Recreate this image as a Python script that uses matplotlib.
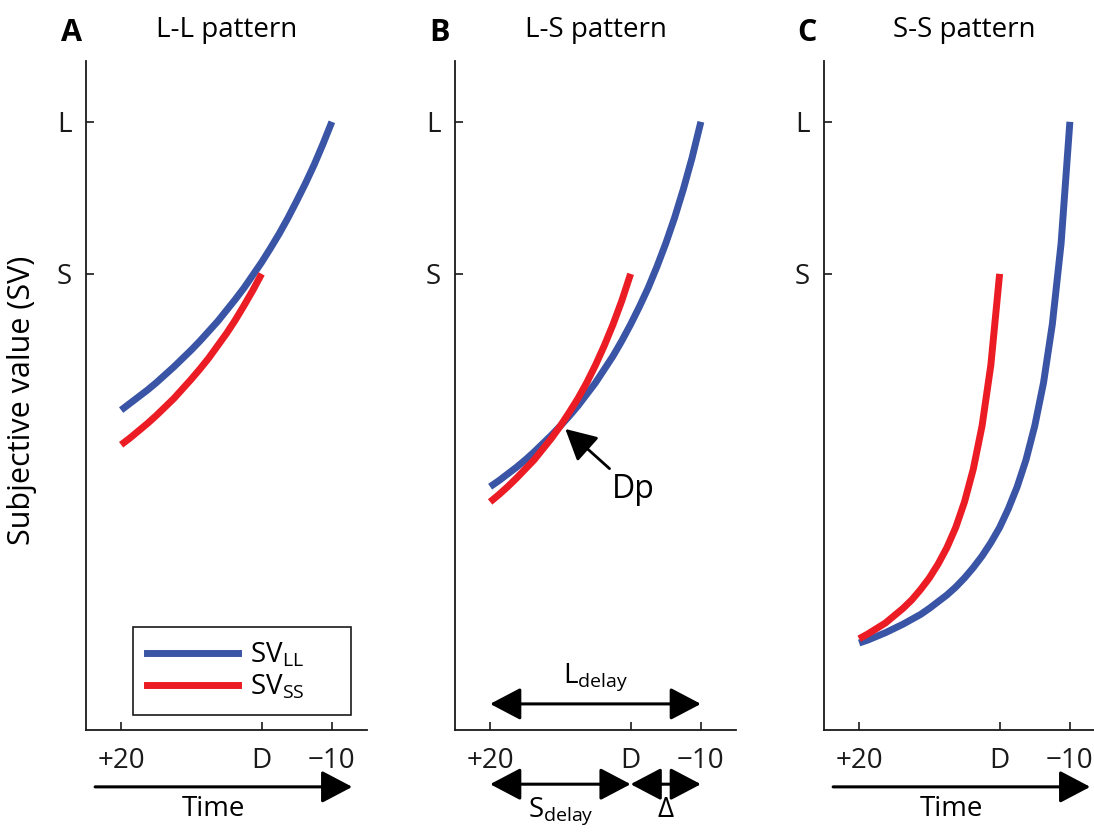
"""Subjective value vs time for three delay-discounting patterns (L-L, L-S, S-S)."""

import matplotlib

matplotlib.use("Agg")
import matplotlib.pyplot as plt
from matplotlib.lines import Line2D

FONT = "Open Sans"
plt.rcParams["font.family"] = [FONT, "DejaVu Sans"]
plt.rcParams["mathtext.fontset"] = "custom"
plt.rcParams["mathtext.rm"] = FONT
plt.rcParams["mathtext.it"] = FONT

BLUE = "#3A55A5"
RED = "#EC1C24"
INK = "#1a1a1a"

# time runs from +20 (far from delivery) to -10 (delivery of L); D = 0
time_ll = [20, 18.75, 17.5, 16.25, 15, 13.75, 12.5, 11.25, 10, 8.75, 7.5, 6.25, 5,
           3.75, 2.5, 1.25, 0, -1.25, -2.5, -3.75, -5, -6.25, -7.5, -8.75, -10]
time_ss = [20, 18.75, 17.5, 16.25, 15, 13.75, 12.5, 11.25, 10, 8.75, 7.5, 6.25, 5,
           3.75, 2.5, 1.25, 0]

# values (S = 0.75, L = 1)
sv_ll_a = [0.526, 0.537, 0.548, 0.559, 0.571, 0.584, 0.597, 0.611, 0.625, 0.64, 0.656, 0.672, 0.69,
           0.708, 0.727, 0.748, 0.769, 0.792, 0.816, 0.842, 0.87, 0.899, 0.93, 0.964, 1.0]
sv_ss_a = [0.469, 0.48, 0.492, 0.504, 0.517, 0.531, 0.545, 0.561, 0.577, 0.594, 0.612, 0.632, 0.652,
           0.674, 0.698, 0.723, 0.75]
sv_ll_b = [0.40, 0.41, 0.421, 0.432, 0.444, 0.457, 0.471, 0.485, 0.50, 0.516, 0.533, 0.552, 0.571,
           0.593, 0.615, 0.64, 0.667, 0.696, 0.727, 0.762, 0.80, 0.842, 0.889, 0.941, 1.0]
sv_ss_b = [0.375, 0.387, 0.40, 0.414, 0.429, 0.444, 0.462, 0.48, 0.50, 0.522, 0.545, 0.571, 0.60,
           0.632, 0.667, 0.706, 0.75]
sv_ll_c = [0.143, 0.148, 0.154, 0.16, 0.167, 0.174, 0.182, 0.19, 0.20, 0.211, 0.222, 0.235, 0.25,
           0.267, 0.286, 0.308, 0.333, 0.364, 0.40, 0.444, 0.50, 0.571, 0.667, 0.80, 1.0]
sv_ss_c = [0.15, 0.158, 0.167, 0.176, 0.188, 0.20, 0.214, 0.231, 0.25, 0.273, 0.30, 0.333, 0.375,
           0.429, 0.50, 0.60, 0.75]

x_ticks = [20, 0, -10]
x_labels = ["+20", "D", "\u221210"]
y_ticks = [0.75, 1.0]
y_labels = ["S", "L"]

titles = ["L-L pattern", "L-S pattern", "S-S pattern"]
letters = ["A", "B", "C"]

W, H = 1094, 834
FS = 20

fig = plt.figure(figsize=(W / 100, H / 100), dpi=100)


def px_axes(left, right, top, bottom):
    return fig.add_axes([left / W, (H - bottom) / H, (right - left) / W, (bottom - top) / H])


axes = [
    px_axes(86, 367, 61, 730),
    px_axes(455, 736, 61, 730),
    px_axes(824, 1105, 61, 730),
]

panels = [
    (sv_ll_a, sv_ss_a),
    (sv_ll_b, sv_ss_b),
    (sv_ll_c, sv_ss_c),
]

for ax, (vl, vs), title in zip(axes, panels, titles):
    ax.plot(time_ll, vl, color=BLUE, lw=5, solid_capstyle="butt")
    ax.plot(time_ss, vs, color=RED, lw=5, solid_capstyle="butt")
    ax.set_xlim(25, -15)
    ax.set_ylim(0, 1.1)
    for side in ["top", "right"]:
        ax.spines[side].set_visible(False)
    for side in ["left", "bottom"]:
        ax.spines[side].set_linewidth(1.3)
        ax.spines[side].set_color(INK)
    ax.set_xticks(x_ticks)
    ax.set_xticklabels(x_labels)
    ax.set_yticks(y_ticks)
    ax.set_yticklabels(y_labels)
    ax.tick_params(direction="in", length=6, width=1.2, colors=INK, labelsize=FS)
    ax.tick_params(axis="x", pad=12)
    ax.tick_params(axis="y", pad=10)
    ax.patch.set_visible(False)

    bb = ax.get_position()
    fig.text(bb.x0 + bb.width / 2, (H - 37) / H, title, ha="center", va="baseline", fontsize=FS)

for letter, x in zip(letters, [61, 429, 797]):
    fig.text(x / W, (H - 41) / H, letter, ha="left", va="baseline", fontsize=FS + 2, fontweight="bold")

fig.text(22 / W, (H - 400) / H, "Subjective value (SV)", rotation=90, ha="center", va="center",
         fontsize=FS + 2)

# legend in panel A (expanded to the width of the original box)
handles = [Line2D([], [], color=BLUE, lw=5), Line2D([], [], color=RED, lw=5)]
leg = axes[0].legend(
    handles,
    [r"SV$_{\mathrm{LL}}$", r"SV$_{\mathrm{SS}}$"],
    loc="lower left",
    bbox_to_anchor=(0.167, 0.022, 0.776, 0.13),
    mode="expand",
    borderaxespad=0,
    fontsize=FS,
    handlelength=3.3,
    handletextpad=0.4,
    labelspacing=0.12,
    borderpad=0.5,
    fancybox=False,
    edgecolor=INK,
    framealpha=1,
)
leg.get_frame().set_linewidth(1.2)

arrow_single = dict(arrowstyle="-|>,head_length=0.95,head_width=0.5", color="black", lw=2.2,
                    mutation_scale=20, shrinkA=0, shrinkB=0)
arrow_double = dict(arrowstyle="<|-|>,head_length=0.95,head_width=0.5", color="black", lw=2.2,
                    mutation_scale=20, shrinkA=0, shrinkB=0)

# time arrows under panels A and C
for ax in [axes[0], axes[2]]:
    tr = ax.get_xaxis_transform()
    ax.annotate("", xy=(-12.9, -0.085), xytext=(23.7, -0.085), xycoords=tr, textcoords=tr,
                arrowprops=arrow_single, annotation_clip=False)
    ax.text(6.8, -0.118, "Time", transform=tr, ha="center", va="center", fontsize=FS)

# delay arrows in panel B
ax = axes[1]
tr = ax.get_xaxis_transform()
ax.annotate("", xy=(-10, 0.039), xytext=(20, 0.039), xycoords=tr, textcoords=tr,
            arrowprops=arrow_double, annotation_clip=False)
ax.text(5, 0.056, r"L$_{\mathrm{delay}}$", transform=tr, ha="center", va="bottom", fontsize=FS)
ax.annotate("", xy=(0, -0.081), xytext=(20, -0.081), xycoords=tr, textcoords=tr,
            arrowprops=arrow_double, annotation_clip=False)
ax.annotate("", xy=(-10, -0.081), xytext=(0, -0.081), xycoords=tr, textcoords=tr,
            arrowprops=arrow_double, annotation_clip=False)
ax.text(10, -0.098, r"S$_{\mathrm{delay}}$", transform=tr, ha="center", va="top", fontsize=FS)
ax.text(-5, -0.098, "\u0394", transform=tr, ha="center", va="top", fontsize=FS)

# decision point
ax.annotate("Dp", xy=(9.3, 0.495), xytext=(2.7, 0.395), fontsize=FS + 3, ha="left", va="center",
            arrowprops=dict(arrowstyle="-|>,head_length=0.95,head_width=0.5", color="black", lw=2,
                            mutation_scale=20, shrinkA=2, shrinkB=0))

fig.savefig("out.png", dpi=100)
